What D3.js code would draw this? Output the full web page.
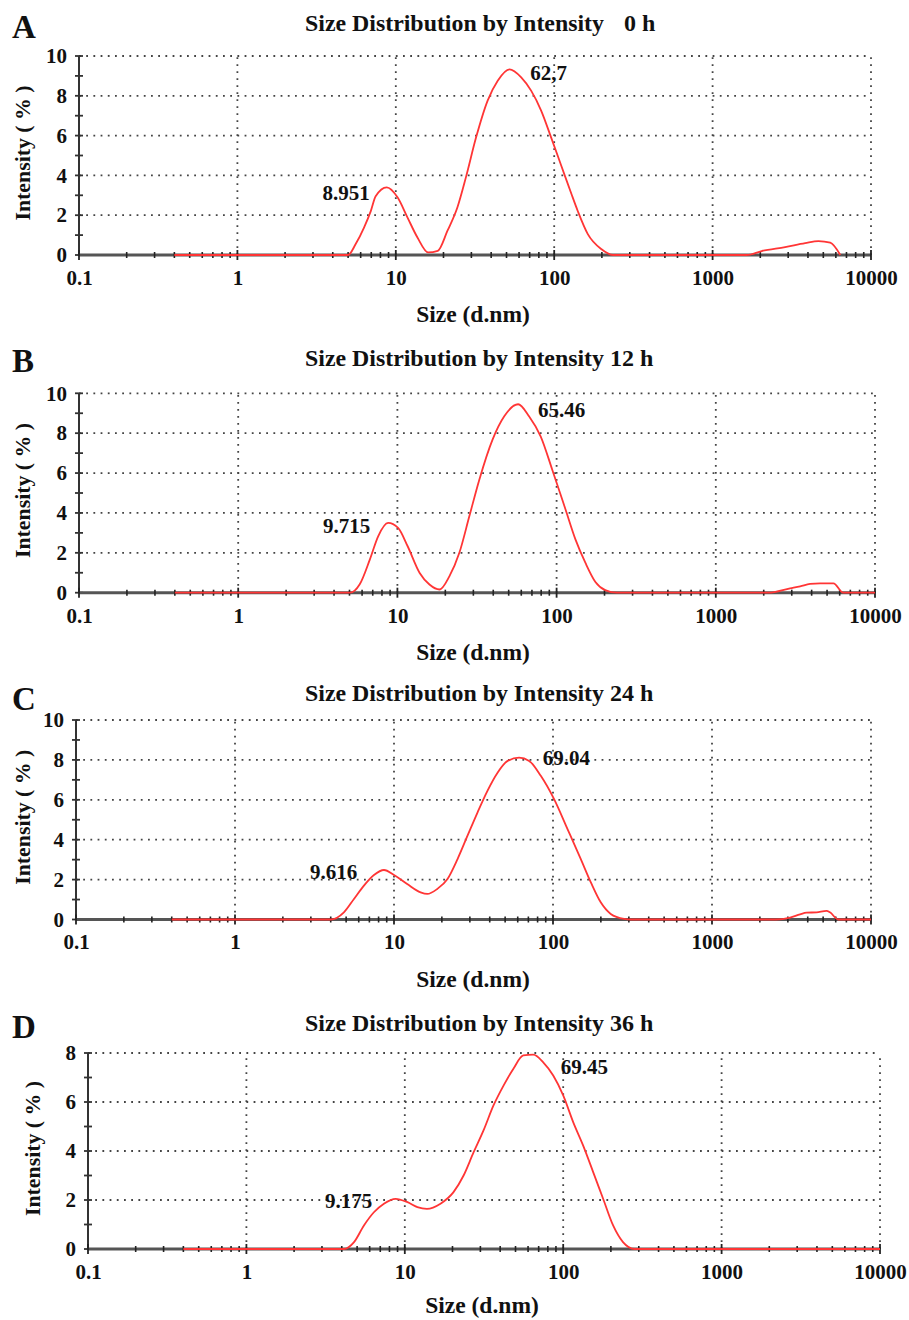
<!DOCTYPE html>
<html><head><meta charset="utf-8">
<script src="https://cdn.jsdelivr.net/npm/d3@7"></script>
<style>
body{margin:0;background:#fff}
text{font-family:"Liberation Serif","Times New Roman",serif;font-weight:bold;fill:#111}
</style>
</head><body>
<svg id="chart" width="909" height="1320"></svg>
<script>
// ---------- data ----------
const panelLetters = ["A", "B", "C", "D"];
const panelHours = ["0 h", "12 h", "24 h", "36 h"];
const titleText = "Size Distribution by Intensity";
const xAxisTitle = "Size (d.nm)";
const yAxisTitle = "Intensity ( % )";
const xTickValues = [0.1, 1, 10, 100, 1000, 10000];
const xTickLabels = ["0.1", "1", "10", "100", "1000", "10000"];
const yMaxes = [10, 10, 10, 8];

const sizesA = [0.4, 5.0, 5.58, 6.3, 6.96, 7.46, 8.77, 10.25, 11.86, 13.7, 16.0, 18.4, 21.2, 24.5, 27.7, 32.1, 38.0, 44.0, 52.2, 61.9, 71.5, 82.7, 95.7, 110.7, 128, 141, 163, 198, 235, 1640, 2040, 2870, 3840, 4660, 5530, 6400];
const intensA = [0, 0, 0.55, 1.38, 2.22, 2.95, 3.4, 2.9, 1.88, 0.88, 0.13, 0.21, 1.22, 2.4, 3.9, 5.9, 7.76, 8.76, 9.33, 8.93, 8.26, 7.26, 5.9, 4.5, 3.1, 2.2, 1.05, 0.3, 0, 0, 0.2, 0.4, 0.6, 0.7, 0.62, 0];

const sizesB = [0.4, 5.04, 5.8, 6.71, 7.57, 8.74, 10.1, 11.6, 13.8, 15.9, 18.4, 21.2, 24.5, 28.3, 32.7, 39.6, 46.9, 57.3, 67.1, 79.4, 93.9, 113.8, 131.5, 151.8, 175.3, 202, 239, 2140, 2930, 3390, 3910, 4520, 5480, 6320, 10000];
const intensB = [0, 0, 0.42, 1.66, 2.83, 3.5, 3.25, 2.33, 0.99, 0.41, 0.16, 0.82, 2.0, 3.83, 5.67, 7.68, 8.85, 9.45, 8.85, 7.84, 6.17, 4.17, 2.66, 1.49, 0.54, 0.13, 0, 0, 0.22, 0.32, 0.44, 0.47, 0.47, 0, 0];

const sizesC = [0.4, 4.0, 4.84, 5.6, 6.47, 7.48, 8.65, 10.0, 12.1, 14.7, 16.2, 18.7, 21.7, 25.1, 29.0, 33.5, 38.7, 44.8, 51.8, 61.2, 70.8, 83.8, 101.6, 123.4, 149.6, 173, 199.6, 230.7, 280, 309, 2530, 3100, 3580, 3940, 4550, 5260, 5520, 6220, 10000];
const intensC = [0, 0, 0.36, 1.03, 1.7, 2.23, 2.48, 2.23, 1.78, 1.36, 1.28, 1.53, 2.03, 3.03, 4.2, 5.36, 6.45, 7.36, 7.95, 8.11, 7.95, 7.2, 6.03, 4.53, 3.03, 1.86, 0.86, 0.28, 0.03, 0, 0, 0.1, 0.26, 0.34, 0.36, 0.43, 0.36, 0, 0];

const sizesD = [0.4, 4.13, 4.78, 5.52, 6.38, 7.38, 8.75, 10.4, 12.0, 13.8, 16.8, 20.3, 23.5, 27.2, 31.4, 36.3, 42.0, 48.5, 56.0, 64.7, 74.8, 86.5, 100, 115.6, 133.7, 154.6, 178.7, 206.6, 238.5, 282.5, 10000];
const intensD = [0, 0, 0.28, 0.96, 1.5, 1.85, 2.05, 1.91, 1.71, 1.64, 1.85, 2.32, 3.0, 3.95, 4.84, 5.86, 6.67, 7.36, 7.9, 7.93, 7.62, 7.08, 6.27, 5.18, 4.22, 3.14, 2.05, 0.96, 0.28, 0, 0];

const peakTextA = ["8.951", "62,7"],  peakSizeA = [3.45, 70.5], peakIntA = [2.76, 8.77];
const peakTextB = ["9.715", "65.46"], peakSizeB = [3.41, 76.4], peakIntB = [2.99, 8.81];
const peakTextC = ["9.616", "69.04"], peakSizeC = [2.96, 86.1], peakIntC = [2.05, 7.72];
const peakTextD = ["9.175", "69.45"], peakSizeD = [3.13, 96.4], peakIntD = [1.67, 7.14];

const allSizes = [sizesA, sizesB, sizesC, sizesD];
const allIntens = [intensA, intensB, intensC, intensD];
const allPeakText = [peakTextA, peakTextB, peakTextC, peakTextD];
const allPeakSize = [peakSizeA, peakSizeB, peakSizeC, peakSizeD];
const allPeakInt = [peakIntA, peakIntB, peakIntC, peakIntD];

// ---------- layout ----------
const layout = [
  {left: 79, right: 871, bottom: 255,   top: 56,    letterY: 38,   titleY: 31,   suffixX: 624,   xlabX: 473, xlabY: 322,  ylabX: 22},
  {left: 79, right: 875, bottom: 592.7, top: 393.3, letterY: 372,  titleY: 366,  suffixX: 610,   xlabX: 473, xlabY: 660,  ylabX: 22},
  {left: 76, right: 871, bottom: 919.5, top: 720,   letterY: 710,  titleY: 701,  suffixX: 610,   xlabX: 473, xlabY: 987,  ylabX: 22},
  {left: 88, right: 880, bottom: 1249,  top: 1053,  letterY: 1038, titleY: 1031, suffixX: 610,   xlabX: 482, xlabY: 1313, ylabX: 32}
];

const svg = d3.select("#chart");
svg.append("rect").attr("width", 909).attr("height", 1320).attr("fill", "#fff");

const minorTicks = [];
[0.1, 1, 10, 100, 1000].forEach(b => { for (let k = 2; k <= 9; k++) minorTicks.push(b * k); });

layout.forEach((L, i) => {
  const g = svg.append("g");
  const x = d3.scaleLog().domain([0.1, 10000]).range([L.left, L.right]);
  const y = d3.scaleLinear().domain([0, yMaxes[i]]).range([L.bottom, L.top]);
  const yGrid = d3.range(2, yMaxes[i] + 1, 2);
  const yAll = d3.range(0, yMaxes[i] + 1, 1);

  // panel letter
  g.append("text").attr("x", 12).attr("y", L.letterY).attr("font-size", 33).text(panelLetters[i]);
  // title
  g.append("text").attr("x", 305).attr("y", L.titleY).attr("font-size", 24)
    .attr("textLength", 299).attr("lengthAdjust", "spacingAndGlyphs").text(titleText);
  g.append("text").attr("x", L.suffixX).attr("y", L.titleY).attr("font-size", 24)
    .text(panelHours[i]);

  // dotted grid
  g.selectAll(".hg").data(yGrid).join("line")
    .attr("x1", L.left).attr("x2", L.right).attr("y1", d => y(d)).attr("y2", d => y(d))
    .attr("stroke", "#444").attr("stroke-width", 1.8).attr("stroke-dasharray", "1.8,5.4");
  g.selectAll(".vg").data(xTickValues.slice(1)).join("line")
    .attr("x1", d => x(d)).attr("x2", d => x(d)).attr("y1", L.bottom).attr("y2", L.top)
    .attr("stroke", "#444").attr("stroke-width", 1.8).attr("stroke-dasharray", "1.8,5.2");

  // left axis line + ticks
  g.append("line").attr("x1", L.left).attr("x2", L.left).attr("y1", L.bottom).attr("y2", L.top)
    .attr("stroke", "#333").attr("stroke-width", 2);
  g.selectAll(".yt").data(yAll).join("line")
    .attr("x1", L.left - 4).attr("x2", L.left + 4).attr("y1", d => y(d)).attr("y2", d => y(d))
    .attr("stroke", "#333").attr("stroke-width", 1.8);

  // bottom axis line + ticks
  g.append("line").attr("x1", L.left).attr("x2", L.right).attr("y1", L.bottom).attr("y2", L.bottom)
    .attr("stroke", "#555").attr("stroke-width", 3);
  g.selectAll(".xm").data(minorTicks).join("line")
    .attr("x1", d => x(d)).attr("x2", d => x(d)).attr("y1", L.bottom - 3).attr("y2", L.bottom + 3)
    .attr("stroke", "#222").attr("stroke-width", 1.6);
  g.selectAll(".xM").data(xTickValues).join("line")
    .attr("x1", d => x(d)).attr("x2", d => x(d)).attr("y1", L.bottom - 5).attr("y2", L.bottom + 5)
    .attr("stroke", "#222").attr("stroke-width", 1.8);

  // tick labels via d3 axes
  const xa = g.append("g").attr("transform", `translate(0,${L.bottom})`)
    .call(d3.axisBottom(x).tickValues(xTickValues).tickFormat((d, j) => xTickLabels[j]).tickSize(0).tickPadding(15));
  xa.select(".domain").remove();
  xa.attr("font-size", 21).attr("font-family", null);
  xa.selectAll("text").attr("fill", "#111");

  const ya = g.append("g").attr("transform", `translate(${L.left},0)`)
    .call(d3.axisLeft(y).tickValues(d3.range(0, yMaxes[i] + 1, 2)).tickFormat(d3.format("d")).tickSize(0).tickPadding(12));
  ya.select(".domain").remove();
  ya.attr("font-size", 21).attr("font-family", null);
  ya.selectAll("text").attr("fill", "#111");

  // axis titles
  g.append("text").attr("x", L.xlabX).attr("y", L.xlabY).attr("font-size", 23.5)
    .attr("text-anchor", "middle").text(xAxisTitle);
  const cy = (L.top + L.bottom) / 2 - 2.5;
  g.append("text").attr("transform", `translate(${L.ylabX},${cy}) rotate(-90)`)
    .attr("font-size", 22).attr("text-anchor", "middle").attr("dominant-baseline", "central")
    .attr("textLength", 135).attr("lengthAdjust", "spacingAndGlyphs").text(yAxisTitle);

  // distribution curve
  const pts = allSizes[i].map((s, j) => [s, allIntens[i][j]]);
  const line = d3.line().x(d => x(d[0])).y(d => y(d[1])).curve(d3.curveMonotoneX);
  g.append("path").attr("d", line(pts)).attr("fill", "none")
    .attr("stroke", "#ff3535").attr("stroke-width", 1.8).attr("stroke-linejoin", "round");

  // peak labels
  g.selectAll(".pk").data(allPeakText[i]).join("text")
    .attr("x", (d, j) => x(allPeakSize[i][j])).attr("y", (d, j) => y(allPeakInt[i][j]))
    .attr("font-size", 21).text(d => d);
});
</script>
</body></html>
